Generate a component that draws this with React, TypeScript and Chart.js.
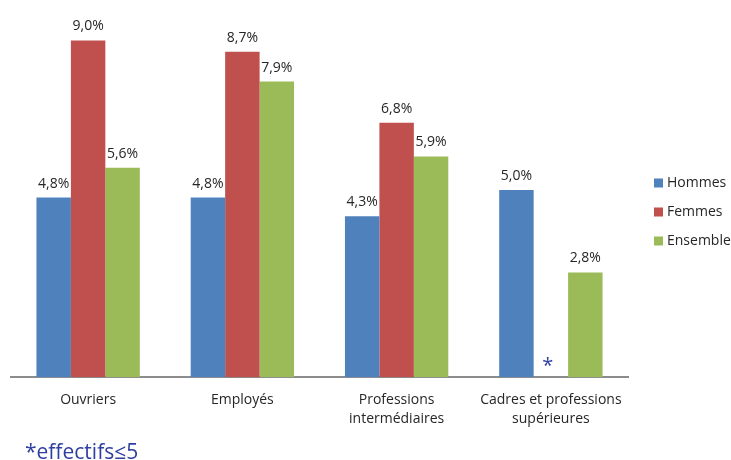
import React, { useEffect, useRef } from "react";
import { Chart, registerables } from "chart.js";

Chart.register(...registerables);

const categories: string[][] = [
  ["Ouvriers"],
  ["Employés"],
  ["Professions", "intermédiaires"],
  ["Cadres et professions", "supérieures"],
];
const seriesNames = ["Hommes", "Femmes", "Ensemble"];
const hommes: (number | null)[] = [4.8, 4.8, 4.3, 5.0];
const femmes: (number | null)[] = [9.0, 8.7, 6.8, null];
const ensemble: (number | null)[] = [5.6, 7.9, 5.9, 2.8];
const seriesColors = ["#4F81BD", "#C0504D", "#9BBB59"];
const footnote = "*effectifs≤5";
const missingMark = "*";

const FONT = "'Open Sans', sans-serif";
const TEXT = "#262626";
const NOTE_BLUE = "#2f3f9f";

const labelsPlugin = {
  id: "valueLabels",
  afterDatasetsDraw(chart: any) {
    const ctx = chart.ctx;
    ctx.save();
    ctx.font = `14px ${FONT}`;
    ctx.fillStyle = TEXT;
    ctx.textAlign = "center";
    ctx.textBaseline = "alphabetic";
    chart.data.datasets.forEach((ds: any, di: number) => {
      const meta = chart.getDatasetMeta(di);
      meta.data.forEach((el: any, i: number) => {
        const v = ds.data[i];
        if (v === null || v === undefined) {
          // marker for small counts
          const y0 = chart.scales.y.getPixelForValue(0);
          ctx.save();
          ctx.font = `20px ${FONT}`;
          ctx.fillStyle = NOTE_BLUE;
          ctx.fillText(missingMark, el.x - 3, y0 - 5);
          ctx.restore();
          return;
        }
        const txt = v.toFixed(1).replace(".", ",") + "%";
        ctx.fillText(txt, el.x, el.y - 10);
      });
    });
    ctx.restore();
  },
};

const legendPlugin = {
  id: "sideLegend",
  afterDraw(chart: any) {
    const ctx = chart.ctx;
    ctx.save();
    ctx.font = `14px ${FONT}`;
    ctx.textBaseline = "middle";
    ctx.textAlign = "left";
    const x0 = chart.chartArea.right + 26;
    const rows = [183, 212, 241];
    chart.data.datasets.forEach((ds: any, di: number) => {
      const cy = rows[di];
      ctx.fillStyle = ds.backgroundColor;
      ctx.fillRect(x0, cy - 4.5, 9, 9);
      ctx.fillStyle = TEXT;
      ctx.fillText(ds.label, x0 + 13, cy + 0.5);
    });
    // footnote
    ctx.font = `21px ${FONT}`;
    ctx.fillStyle = NOTE_BLUE;
    ctx.textBaseline = "alphabetic";
    ctx.fillText(footnote, 25, 459);
    ctx.restore();
  },
};

export default function App() {
  const ref = useRef<HTMLCanvasElement | null>(null);
  useEffect(() => {
    if (!ref.current) return;
    const seriesData = [hommes, femmes, ensemble];
    const chart = new Chart(ref.current, {
      type: "bar",
      data: {
        labels: categories,
        datasets: seriesNames.map((name, i) => ({
          label: name,
          data: seriesData[i],
          backgroundColor: seriesColors[i],
          borderWidth: 0,
          categoryPercentage: 0.67,
          barPercentage: 1.0,
        })),
      },
      options: {
        responsive: false,
        animation: false,
        devicePixelRatio: 1,
        layout: { padding: { top: 3, left: 11, right: 103, bottom: 19 } },
        plugins: {
          legend: { display: false },
          tooltip: { enabled: false },
        },
        scales: {
          x: {
            grid: { display: false, drawTicks: false },
            border: { display: true, color: "#8c8c8c", width: 2 },
            ticks: {
              color: TEXT,
              padding: 13,
              maxRotation: 0,
              autoSkip: false,
              font: { family: FONT, size: 14, lineHeight: 1.35 },
            },
          },
          y: {
            display: false,
            min: 0,
            max: 10,
          },
        },
      },
      plugins: [labelsPlugin, legendPlugin],
    });
    return () => chart.destroy();
  }, []);
  return (
    <div style={{ position: "absolute", left: 0, top: 0, width: 731, height: 460 }}>
      <canvas ref={ref} width={731} height={460} />
    </div>
  );
}
